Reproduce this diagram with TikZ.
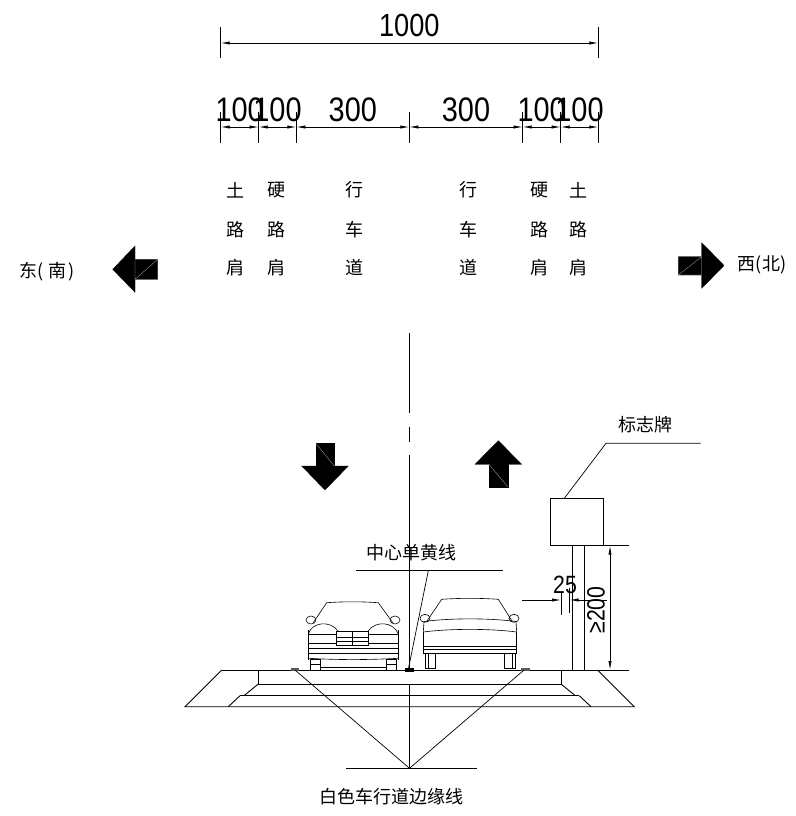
\documentclass[tikz,border=0pt]{standalone}
\usepackage{fontspec}
\setmainfont{Liberation Sans}
\newfontfamily\numfont[FakeStretch=0.85]{Liberation Sans}
\newfontfamily\cjk{Noto Sans CJK SC}
\usetikzlibrary{arrows.meta}
\begin{document}
\begin{tikzpicture}[x=1pt,y=-1pt,
  thin line/.style={line width=0.7pt},
  road/.style={line width=0.9pt},
  car/.style={line width=0.6pt},
  dimline/.style={line width=0.7pt,{Latex[length=9pt,width=3.2pt]}-{Latex[length=9pt,width=3.2pt]}},
  dimarrow/.style={line width=0.7pt,-{Latex[length=9pt,width=3.2pt]}},
  bignum/.style={font=\numfont\fontsize{32}{32}\selectfont,inner sep=0pt},
  midnum/.style={font=\numfont\fontsize{34}{34}\selectfont,inner sep=0pt},
  smallnum/.style={font=\numfont\fontsize{25}{25}\selectfont,inner sep=0pt},
  zh/.style={font=\cjk\fontsize{18}{18}\selectfont,inner sep=0pt},
  blk/.style={fill=black,draw=black,line width=0.3pt},
  seam/.style={draw=gray!60,line width=0.3pt},
]
\useasboundingbox (0,0) rectangle (795,816);

% ---------- overall width dimension ----------
\coordinate (W1) at (220.7,43);
\coordinate (W2) at (598.3,43);
\draw[thin line] (220.7,27) -- (220.7,58) (598.3,27) -- (598.3,58);
\draw[dimline] (W1) -- (W2);
\node[bignum] (w1000) at (409.3,25) {1000};

% ---------- partial width dimensions ----------
\foreach \n/\x in {0/220.7,1/258.7,2/296.3,3/409.3,4/522.7,5/560.7,6/598.3}{
  \coordinate (P\n) at (\x,127);
  \draw[thin line] (\x,112) -- (\x,143);
}
\foreach \a/\b in {0/1,1/2,2/3,3/4,4/5,5/6}{
  \draw[dimline] (P\a) -- (P\b);
}
\node[midnum] (d1) at (239.7,110) {100};
\node[midnum] (d2) at (277.5,110) {100};
\node[midnum] (d3) at (352.8,110) {300};
\node[midnum] (d4) at (466.0,110) {300};
\node[midnum] (d5) at (541.7,110) {100};
\node[midnum] (d6) at (579.5,110) {100};

% ---------- lane labels ----------
\foreach \i/\x/\a/\b/\c in {1/235.7/土/路/肩,2/276.7/硬/路/肩,3/354/行/车/道,
                             4/468/行/车/道,5/539/硬/路/肩,6/578/土/路/肩}{
  \node[zh] (c\i a) at (\x,190) {\a};
  \node[zh] (c\i b) at (\x,230) {\b};
  \node[zh] (c\i c) at (\x,268) {\c};
}

% ---------- direction arrows ----------
\node[zh,anchor=center] (east) at (47.5,272) {东(\hspace{5pt}南\hspace{2pt})};
\path[blk] (112.7,269.3) -- (135,246) -- (135,259.3) -- (157.7,259.3)
  -- (157.7,279.3) -- (135,279.3) -- (135,292.3) -- cycle;
\draw[seam] (135,259.3) -- (135,279.3) -- (157.7,259.3);

\path[blk] (678.3,256.7) -- (701.7,256.7) -- (701.7,242.7) -- (724,265.5)
  -- (701.7,288.3) -- (701.7,275) -- (678.3,275) -- cycle;
\draw[seam] (701.7,256.7) -- (701.7,275) -- (678.3,275) (701.7,256.7) -- (678.3,275);
\node[zh] (west) at (762,265) {西(北)};

\path[blk] (315.7,443.3) rectangle (334.3,466);
\path[blk] (301.7,466) -- (348.3,466) -- (325,490) -- cycle;
\draw[seam] (315.7,443.3) -- (334.3,466);

\path[blk] (489,464.3) rectangle (507.7,486.7);
\path[blk] (475,464.3) -- (521.7,464.3) -- (498.3,440.7) -- cycle;
\draw[seam] (489,464.3) -- (507.7,486.7);

% ---------- centre line ----------
\draw[thin line] (409.3,333) -- (409.3,412.7)
  (409.3,426.7) -- (409.3,441.7)
  (409.3,455) -- (409.3,670);

% ---------- centre single yellow line label ----------
\node[zh] (yellow) at (411,553) {中心单黄线};
\coordinate (YL) at (356,570.7);
\coordinate (YR) at (502.7,570.7);
\coordinate (YK) at (428.3,570.7);
\coordinate (YM) at (408.3,669.3);
\draw[thin line] (YL) -- (YR);
\draw[thin line] (YK) -- (YM);
\fill (405,668) rectangle (413.5,671.5);

% ---------- road cross section ----------
\draw[road] (221.7,670) -- (629.3,670);
\draw[road] (221.7,670) -- (185,706.7) -- (634.3,706.7) -- (597.6,670);
\draw[road] (258.3,670) -- (258.3,684) -- (561,684) -- (561,670);
\draw[road] (258.3,684) -- (244,695.7);
\draw[road] (240,695.7) -- (579.3,695.7);
\draw[road] (240,695.7) -- (228.3,706.7);
\draw[road] (561,684) -- (575.3,695.7);
\draw[road] (579.3,695.7) -- (591,706.7);
% edge line marks
\fill[gray!70!black] (290.5,668.3) rectangle (298.8,670.5);
\fill[gray!70!black] (521.2,668.3) rectangle (529.5,670.5);

% ---------- white edge line label ----------
\coordinate (EL) at (295,670);
\coordinate (ER) at (524,670);
\coordinate (EA) at (409.5,768.3);
\coordinate (EC) at (409.5,684);
\draw[thin line] (EL) -- (EA) -- (ER);
\draw[thin line] (EC) -- (EA);
\draw[thin line] (346,768.8) -- (476.7,768.8);
\node[zh] (edge) at (391.7,796.7) {白色车行道边缘线};

% ---------- sign ----------
\node[zh] (signtxt) at (645,425) {标志牌};
\draw[thin line] (564.3,498.3) -- (606,443.3) -- (700.7,443.3);
\draw[thin line] (550.7,498.3) rectangle (603.3,545.7);
\draw[thin line] (572.7,545.7) -- (572.7,670) (584.3,545.7) -- (584.3,670);
\draw[thin line] (603.3,545.7) -- (629.3,545.7);
\coordinate (H1) at (610,545.7);
\coordinate (H2) at (610,670);
\draw[dimline] (H1) -- (H2);
\node[smallnum,rotate=90] (h200) at (596,610) {≥200};

% clearance to the sign
\draw[thin line] (561,591.7) -- (561,615) (569.5,588) -- (569.5,613);
\coordinate (Ca) at (522,600);
\coordinate (Cb) at (561,600);
\coordinate (Cc) at (607,600);
\coordinate (Cd) at (569.5,600);
\draw[dimarrow] (Ca) -- (Cb);
\draw[dimarrow] (Cc) -- (Cd);
\node[smallnum] (c25) at (565,585) {25};

% ---------- left car (front view) ----------
\begin{scope}[car]
  \draw (326.7,602.7) .. controls (345,601.5) and (360,601.5) .. (378.3,602.7);
  \draw (326.7,602.7) -- (313,623);
  \draw (378.3,602.7) -- (393,623);
  \draw (311,620) ellipse (5pt and 4pt);
  \draw (395,620) ellipse (5pt and 4pt);
  \draw (308.3,634) .. controls (312,622) and (330,620) .. (338,631);
  \draw (398.3,634) .. controls (394,622) and (376,620) .. (368,631);
  \draw (338,631) -- (368,631);
  \draw (308.3,630) -- (308.3,660) (398.3,630) -- (398.3,660);
  \draw (308.3,634) -- (336.7,634) (368.3,634) -- (398.3,634);
  \draw (308.3,643.3) -- (336.7,643.3) (368.3,643.3) -- (398.3,643.3);
  \draw (336.7,631) rectangle (368.3,645.5);
  \draw (352.5,631) -- (352.5,645.5);
  \draw (336.7,637) -- (368.3,637) (336.7,641) -- (368.3,641);
  \draw[line width=1.4pt] (308.3,648.3) -- (398.3,648.3);
  \draw (308.3,653.3) -- (398.3,653.3);
  \draw (308.3,658.3) .. controls (340,660) and (366,660) .. (398.3,658.3);
  \draw (310.5,659) rectangle (320.5,670);
  \draw (310.5,664.5) -- (320.5,664.5);
  \draw (386,659) rectangle (396,670);
  \draw (386,664.5) -- (396,664.5);
  \draw (320.5,667) -- (386,667);
\end{scope}

% ---------- right car (rear view) ----------
\begin{scope}[car]
  \draw (441.7,599.3) .. controls (460,598) and (480,598) .. (498.3,599.3);
  \draw (441.7,599.3) -- (427,621);
  \draw (498.3,599.3) -- (512,621);
  \draw (425,618.3) ellipse (5pt and 4pt);
  \draw (514,618.3) ellipse (5pt and 4pt);
  \draw (424,621.5) .. controls (450,618) and (490,618) .. (516,621.5);
  \draw (424,621.5) -- (423.3,632) (516,621.5) -- (516.7,632);
  \draw (423.3,632) .. controls (450,628.5) and (490,628.5) .. (516.7,632);
  \draw (423.3,632) -- (423.3,653.3) (516.7,632) -- (516.7,653.3);
  \draw (423.3,646) -- (516.7,646);
  \draw[line width=1.4pt] (423.3,649.3) -- (516.7,649.3);
  \draw (423.3,653.3) -- (516.7,653.3);
  \draw (425,653.3) rectangle (435.5,668.5);
  \draw (428,653.3) -- (428,668.5);
  \draw (504.5,653.3) rectangle (515,668.5);
  \draw (512,653.3) -- (512,668.5);
\end{scope}

\end{tikzpicture}
\end{document}
